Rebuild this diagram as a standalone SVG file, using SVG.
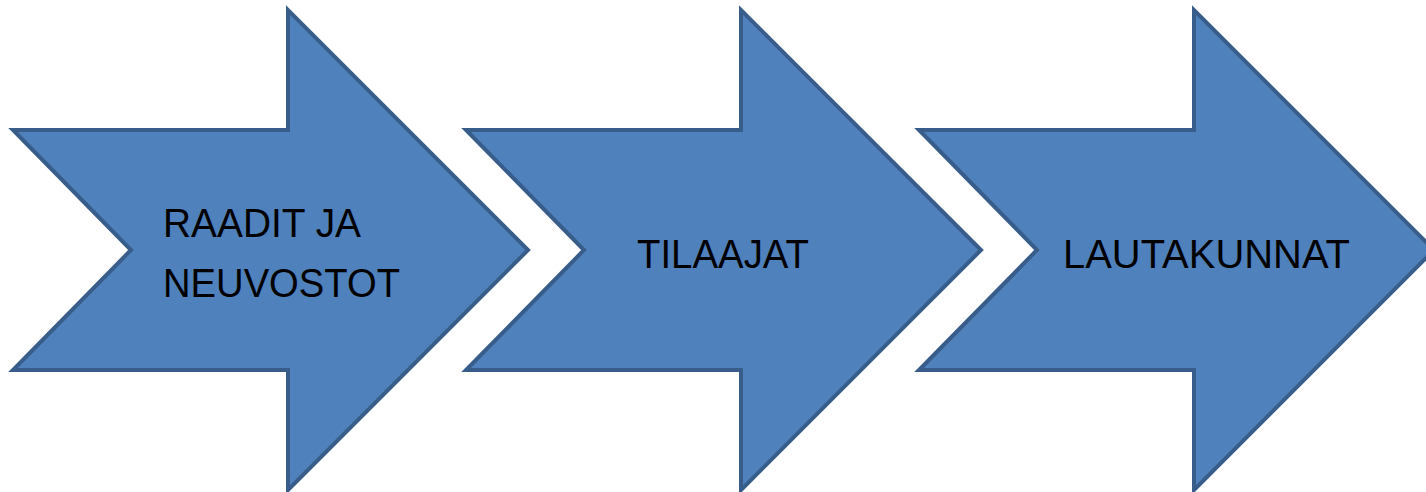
<svg xmlns="http://www.w3.org/2000/svg" width="1426" height="492" viewBox="0 0 1426 492">
<style>
.arrow{fill:#4F81BD;stroke:#385D8A;stroke-width:4;stroke-linejoin:miter}
.lbl{font-family:"Liberation Sans",Arial,sans-serif;font-size:40px;fill:#000}
</style>
<rect width="1426" height="492" fill="#fff"/>
<g id="node1">
<polygon class="arrow" transform="translate(13,130)" points="0,0 275,0 275,-120 515,120 275,360 275,240 0,240 118,120"/>
<text class="lbl" x="163" y="237" textLength="198" lengthAdjust="spacingAndGlyphs">RAADIT JA</text>
<text class="lbl" x="163" y="297" textLength="237" lengthAdjust="spacingAndGlyphs">NEUVOSTOT</text>
</g>
<g id="node2">
<polygon class="arrow" transform="translate(466,130)" points="0,0 275,0 275,-120 515,120 275,360 275,240 0,240 118,120"/>
<text class="lbl" x="637" y="268" textLength="172" lengthAdjust="spacingAndGlyphs">TILAAJAT</text>
</g>
<g id="node3">
<polygon class="arrow" transform="translate(919,130)" points="0,0 275,0 275,-120 515,120 275,360 275,240 0,240 118,120"/>
<text class="lbl" x="1063" y="268" textLength="287" lengthAdjust="spacingAndGlyphs">LAUTAKUNNAT</text>
</g>
<g id="connectors"/>
</svg>
